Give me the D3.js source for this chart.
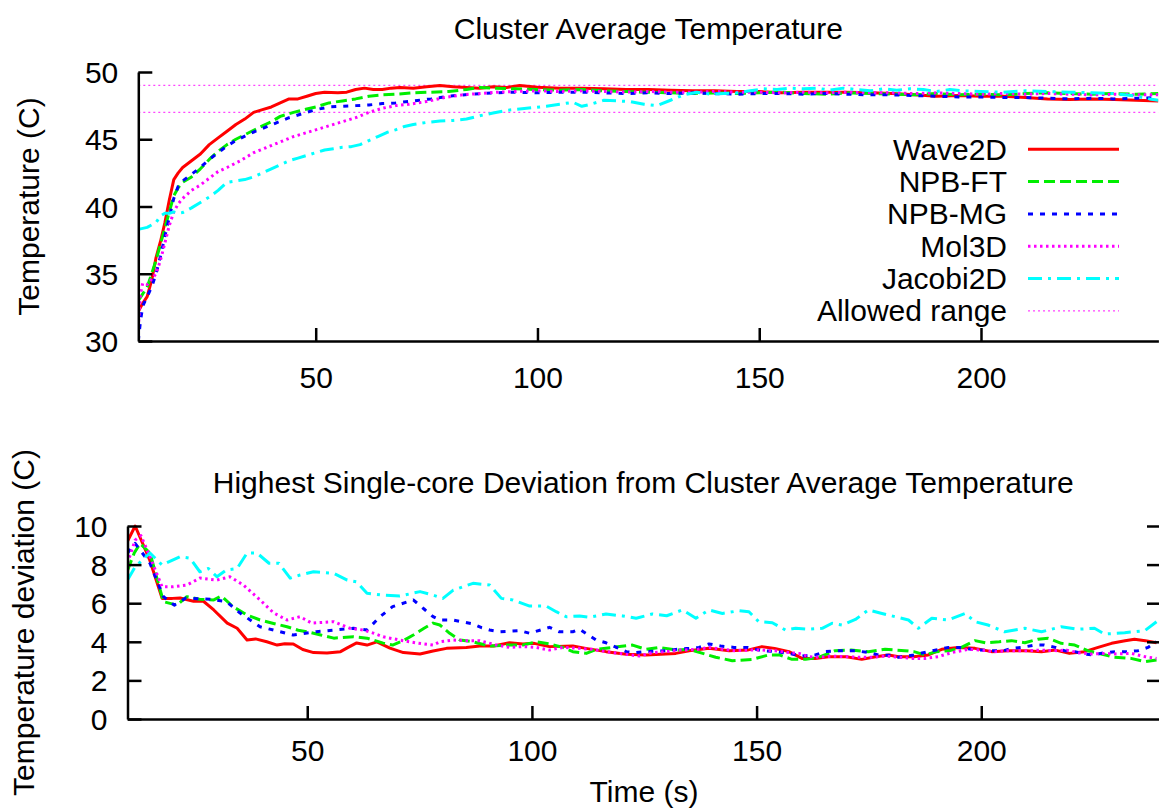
<!DOCTYPE html>
<html><head><meta charset="utf-8">
<script src="https://cdn.jsdelivr.net/npm/d3@7/dist/d3.min.js"></script>
<style>
html,body{margin:0;padding:0;background:#fff;}
svg text{font-family:"Liberation Sans",Arial,Helvetica,sans-serif;fill:#000;}
</style></head><body>
<svg id="chart" width="1159" height="809"></svg>
<script>
// ---------------- DATA ----------------
const seriesNames = ["Wave2D","NPB-FT","NPB-MG","Mol3D","Jacobi2D"];
const allowedRange = [47, 49];
const xTicks = [50,100,150,200];
const topYTicks = [30,35,40,45,50];
const bottomYTicks = [0,2,4,6,8,10];

// Cluster average temperature: [time (s), temperature (C)]
const avgWave2D = [[10,32.2],[11,32.8],[12,33.3],[13,34.5],[14,36.2],[15,37.4],[16,38.8],[17,40.5],[18,42.0],[19,42.5],[20,42.9],[22,43.4],[24,43.9],[26,44.6],[28,45.1],[30,45.6],[32,46.1],[34,46.5],[36,47.0],[38,47.2],[40,47.4],[42,47.7],[44,48.0],[46,48.0],[48,48.2],[50,48.4],[52,48.5],[55,48.45],[57,48.5],[59,48.7],[61,48.8],[63,48.7],[65,48.7],[67,48.8],[69,48.85],[72,48.8],[75,48.9],[78,49.0],[81,48.9],[84,48.85],[87,48.8],[90,48.9],[93,48.85],[96,49.0],[100,48.86],[105,48.8],[110,48.8],[115,48.75],[120,48.7],[125,48.7],[130,48.65],[135,48.6],[140,48.6],[145,48.55],[150,48.55],[155,48.45],[160,48.5],[165,48.5],[170,48.5],[175,48.45],[180,48.4],[185,48.3],[190,48.2],[195,48.25],[200,48.2],[205,48.2],[210,48.1],[215,48.0],[220,47.95],[225,48.0],[230,47.95],[235,47.9],[240,47.85]];
const avgNPBFT = [[10,33.0],[11,33.5],[12,34.0],[13,35.0],[14,36.0],[15,37.2],[16,38.4],[17,39.6],[18,40.8],[19,41.4],[20,41.8],[22,42.2],[24,42.8],[26,43.5],[28,44.1],[30,44.6],[32,45.0],[35,45.5],[38,46.0],[40,46.3],[42,46.7],[45,47.0],[48,47.25],[50,47.4],[53,47.7],[56,47.85],[59,48.0],[62,48.2],[65,48.3],[68,48.35],[72,48.45],[76,48.5],[80,48.55],[84,48.7],[87,48.85],[90,48.8],[95,48.75],[100,48.7],[105,48.65],[110,48.7],[115,48.6],[120,48.55],[125,48.5],[130,48.45],[135,48.4],[140,48.45],[145,48.4],[150,48.45],[155,48.5],[160,48.4],[165,48.35],[170,48.45],[175,48.4],[180,48.35],[185,48.3],[190,48.4],[195,48.3],[200,48.35],[205,48.3],[210,48.4],[215,48.45],[220,48.4],[225,48.35],[230,48.4],[235,48.35],[240,48.4]];
const avgNPBMG = [[10,30.0],[10.5,31.5],[11,32.6],[12,33.3],[13,34.0],[14,35.0],[15,36.3],[16,37.8],[17,39.2],[18,40.6],[19,41.5],[20,41.9],[22,42.4],[24,42.9],[26,43.5],[28,44.0],[30,44.5],[32,44.9],[35,45.4],[38,45.8],[41,46.2],[44,46.6],[47,46.9],[50,47.2],[53,47.4],[56,47.45],[59,47.5],[62,47.55],[65,47.65],[68,47.7],[72,47.85],[76,48.0],[80,48.2],[85,48.35],[90,48.45],[95,48.5],[100,48.45],[105,48.5],[110,48.5],[115,48.45],[120,48.4],[125,48.45],[130,48.4],[135,48.45],[140,48.4],[145,48.35],[150,48.4],[155,48.4],[160,48.35],[165,48.4],[170,48.35],[175,48.3],[180,48.3],[185,48.25],[190,48.2],[195,48.15],[200,48.15],[205,48.1],[210,48.1],[215,48.05],[220,48.0],[225,48.05],[230,48.0],[235,48.05],[240,48.1]];
const avgMol3D = [[10,31.0],[10.5,33.5],[11,34.3],[12,34.2],[13,34.6],[14,35.0],[15,36.0],[16,37.3],[17,38.6],[18,39.6],[19,40.2],[20,40.6],[22,41.2],[24,41.6],[26,42.1],[28,42.6],[30,42.9],[33,43.4],[36,44.0],[39,44.4],[42,44.8],[45,45.2],[48,45.5],[50,45.7],[53,46.0],[56,46.3],[59,46.6],[62,47.0],[65,47.3],[68,47.5],[71,47.6],[75,47.8],[79,48.1],[83,48.3],[87,48.4],[91,48.5],[95,48.55],[100,48.6],[105,48.55],[110,48.6],[115,48.55],[120,48.5],[125,48.55],[130,48.5],[135,48.5],[140,48.55],[145,48.5],[150,48.5],[155,48.45],[160,48.5],[165,48.45],[170,48.5],[175,48.45],[180,48.45],[185,48.4],[190,48.45],[195,48.4],[200,48.35],[205,48.4],[210,48.35],[215,48.4],[220,48.35],[225,48.3],[230,48.35],[235,48.3],[240,48.3]];
const avgJacobi2D = [[10,38.3],[12,38.45],[14,38.8],[15,39.3],[16,39.5],[17,39.5],[18,39.6],[19,39.5],[20,39.55],[22,39.9],[24,40.3],[26,40.7],[28,41.2],[30,41.8],[32,41.9],[34,42.0],[36,42.2],[38,42.5],[40,42.8],[42,43.1],[44,43.4],[46,43.6],[48,43.8],[50,44.0],[52,44.2],[54,44.3],[56,44.4],[58,44.45],[60,44.6],[62,44.9],[64,45.2],[66,45.5],[68,45.7],[70,45.95],[72,46.1],[75,46.25],[78,46.35],[81,46.4],[84,46.5],[87,46.75],[90,46.95],[93,47.15],[96,47.25],[99,47.35],[102,47.45],[105,47.6],[108,47.75],[110,47.45],[112,47.6],[115,47.9],[118,47.85],[121,47.8],[124,47.6],[127,47.5],[130,47.9],[133,48.3],[136,48.5],[139,48.35],[142,48.4],[145,48.45],[148,48.6],[151,48.75],[154,48.7],[157,48.8],[160,48.75],[163,48.8],[166,48.65],[169,48.8],[172,48.7],[175,48.6],[178,48.75],[181,48.65],[184,48.75],[187,48.7],[190,48.55],[193,48.7],[196,48.6],[200,48.55],[205,48.5],[210,48.6],[215,48.55],[220,48.5],[225,48.45],[230,48.4],[235,48.2],[238,48.0],[240,47.9]];

// Highest single-core deviation: [time (s), deviation (C)]
const devWave2D = [[10,9.2],[11.7,10.0],[13,9.3],[15,8.2],[17.7,6.25],[20,6.25],[21.7,6.27],[24.7,6.1],[26.9,6.1],[29.2,5.65],[32.2,4.97],[34.4,4.7],[36.6,4.09],[38.5,4.15],[41,4.0],[43.3,3.83],[45,3.9],[46.9,3.89],[49,3.6],[51.4,3.44],[54.4,3.42],[57.4,3.49],[59,3.7],[61,3.94],[63.3,3.83],[65.5,4.0],[68.4,3.67],[71.4,3.44],[75.1,3.37],[78,3.52],[81,3.66],[85.4,3.71],[88.4,3.78],[91.5,3.78],[95,3.95],[98,3.89],[100.5,3.92],[103.9,3.75],[109.1,3.78],[112,3.66],[116.5,3.49],[121,3.35],[125.4,3.32],[129.8,3.37],[132,3.4],[135,3.54],[139.4,3.66],[143.9,3.54],[148,3.57],[151.2,3.75],[154,3.66],[157.2,3.49],[160.1,3.14],[163,3.14],[166,3.23],[170,3.23],[173.4,3.09],[176.5,3.23],[179.4,3.32],[181.6,3.23],[185,3.23],[188.2,3.32],[191.2,3.61],[194.9,3.71],[198.6,3.66],[202.3,3.49],[206,3.54],[210,3.54],[213.4,3.49],[216.5,3.57],[219.6,3.4],[223,3.49],[226,3.71],[229,3.92],[232,4.05],[234.1,4.13],[236.5,4.06],[239,3.95]];
const devNPBFT = [[10,7.7],[11.5,8.6],[12.8,9.1],[15,8.6],[18,6.08],[21,5.9],[23.2,6.34],[26,6.2],[29.2,6.17],[30.9,6.37],[33.5,5.82],[36.5,5.4],[39.5,5.13],[42.5,4.95],[45.5,4.78],[48,4.6],[50,4.52],[53,4.35],[55.9,4.19],[60.3,4.26],[63.3,4.19],[66.9,3.93],[69,3.83],[71.3,4.05],[73.6,4.35],[76,4.7],[78,4.97],[79.5,4.87],[81.7,4.44],[84,4.09],[86.9,4.0],[90.6,3.78],[94.3,3.83],[98,3.83],[101,4.0],[103.9,3.89],[106.9,3.71],[109.1,3.49],[112.1,3.4],[114.3,3.61],[118,3.71],[122.4,3.83],[125.4,3.61],[128.3,3.71],[132.4,3.57],[135,3.61],[138,3.4],[140.9,3.2],[144.6,3.02],[149,3.09],[152.7,3.32],[155,3.32],[157.9,3.09],[160.9,3.09],[163.8,3.2],[167.5,3.54],[171,3.57],[174.9,3.49],[178.6,3.61],[183,3.54],[185,3.49],[187.5,3.32],[190,3.49],[193,3.54],[195.6,3.71],[198.6,4.06],[201,3.95],[204,4.0],[206.7,4.06],[209.7,3.95],[212.6,4.13],[214.9,4.18],[217.8,3.92],[220.8,3.83],[223.7,3.54],[226.7,3.37],[229.6,3.2],[233.3,3.14],[236.4,2.97],[239,3.06]];
const devNPBMG = [[10,8.6],[11.7,9.1],[15,8.07],[18,6.34],[20.4,5.9],[23,6.27],[28.4,6.2],[32,6.08],[35,5.5],[39.5,4.78],[44,4.52],[46.9,4.35],[52,4.52],[55.9,4.61],[60.3,4.7],[63.3,4.61],[66.2,5.3],[69,5.82],[73.6,6.17],[76,5.7],[78,5.3],[79.5,5.13],[82.5,5.13],[86.9,4.92],[88.8,4.73],[90.6,4.61],[92.8,4.52],[97.3,4.58],[99.5,4.44],[103.9,4.75],[106.1,4.52],[109.1,4.52],[110.6,4.65],[114.3,4.09],[116.5,3.95],[121,3.49],[123.2,3.44],[125.4,3.49],[129.8,3.54],[132.4,3.61],[135,3.66],[137.2,3.71],[139.4,3.89],[142,3.78],[145,3.71],[148,3.71],[151.2,3.54],[154.5,3.49],[157.9,3.37],[160.1,3.26],[163.1,3.32],[165.3,3.49],[168,3.54],[172,3.54],[174.9,3.44],[177.1,3.32],[180,3.3],[181.6,3.2],[185,3.32],[188.2,3.49],[192.7,3.71],[195,3.71],[197.8,3.61],[202.3,3.54],[205,3.54],[206.7,3.66],[209,3.71],[211.9,3.83],[214,3.83],[216.5,3.71],[218.5,3.54],[220.8,3.49],[223,3.37],[225,3.32],[227.4,3.44],[230,3.49],[232.5,3.49],[234.9,3.54],[237.1,3.71],[239,4.0]];
const devMol3D = [[10,8.07],[11.7,9.27],[13,9.5],[15,8.4],[17.7,6.85],[20,6.85],[23.2,6.94],[26.1,7.3],[29.9,7.2],[32.8,7.37],[35.8,6.94],[39.5,6.17],[42.5,5.5],[45.5,5.13],[48.4,5.3],[51,4.97],[55.9,5.04],[59.5,4.7],[62.5,4.61],[64.7,4.45],[66.9,4.26],[70.6,4.09],[74.3,3.94],[78,3.83],[79.5,4.0],[82.5,4.09],[85.5,4.06],[88.4,4.06],[92.1,3.83],[95,3.71],[98,3.75],[101,3.71],[103.9,3.57],[106.9,3.71],[110.6,3.66],[113.5,3.61],[118,3.44],[121,3.35],[123.9,3.26],[126.8,3.44],[129.8,3.49],[133,3.57],[137,3.61],[139.4,3.71],[142.4,3.61],[145.3,3.54],[148.3,3.57],[151.2,3.57],[154.2,3.54],[157.2,3.44],[159.4,3.4],[161.6,3.23],[163.8,3.2],[166.8,3.26],[169.8,3.23],[172.7,3.2],[175.6,3.2],[178.6,3.26],[181.6,3.2],[184.5,3.14],[187.5,3.14],[190.4,3.23],[193.4,3.44],[197.1,3.61],[200,3.57],[203,3.49],[206,3.54],[210,3.54],[213,3.57],[217,3.54],[219,3.57],[221.5,3.44],[224.5,3.37],[227.5,3.4],[230.4,3.37],[233.4,3.4],[236.4,3.23],[239,3.14]];
const devJacobi2D = [[10,7.2],[11.7,7.89],[15,8.6],[17.7,7.98],[21.7,8.41],[23.9,8.33],[26.1,7.63],[28,7.8],[29.9,7.37],[32,7.72],[34.4,7.8],[36.6,8.6],[38.8,8.6],[41.5,8.07],[43.7,8.07],[46.2,7.3],[48.4,7.46],[51.4,7.63],[55.9,7.55],[58.9,7.2],[61,7.11],[63.3,6.51],[66.8,6.42],[70.6,6.37],[75.1,6.6],[78,6.42],[80.2,6.25],[82.5,6.68],[86.9,7.03],[90.6,6.94],[93.2,6.25],[95.7,6.17],[99.5,5.85],[103.2,5.85],[105.4,5.56],[107.6,5.3],[110.6,5.34],[112.8,5.27],[116.5,5.44],[120.2,5.34],[123.2,5.22],[126.8,5.44],[130,5.35],[133.5,5.65],[136.5,5.22],[139.4,5.65],[142.4,5.47],[146.1,5.61],[148.3,5.56],[150.5,5.04],[153.5,4.99],[156.4,4.61],[158.7,4.7],[161.6,4.65],[164.6,4.7],[166.8,4.96],[169,4.87],[172,5.16],[174.9,5.65],[177.9,5.47],[180.8,5.3],[183.8,5.13],[186,4.7],[189,5.22],[192.7,5.13],[196.4,5.47],[198.6,5.04],[201.5,4.87],[205.2,4.52],[209.7,4.7],[213.4,4.52],[217.8,4.78],[221.5,4.65],[225.2,4.7],[227.4,4.4],[231.9,4.47],[236.4,4.58],[239,5.04]];

// ---------------- STYLE ----------------
const styles = [
  {color:"#ff0000", dash:null},
  {color:"#00ee00", dash:"11,5"},
  {color:"#0000ff", dash:"5,7"},
  {color:"#ff00ff", dash:"2.5,3.5"},
  {color:"#00ffff", dash:"14,6,3,6"}
];
const FONT = 30;
const svg = d3.select("#chart");

function panel(cfg){
  const {left,right,top,bottom,yDomain,yTicks,data,title,titleY,ylabel,ylabelX,xLabelY,mirrorY,allowed} = cfg;
  const x = d3.scaleLinear().domain([10,240]).range([left,right]);
  const y = d3.scaleLinear().domain(yDomain).range([bottom,top]);
  const id = "clip"+top;
  svg.append("clipPath").attr("id",id).append("rect")
     .attr("x",left).attr("y",top-2).attr("width",right-left).attr("height",bottom-top+2);
  const g = svg.append("g");
  const plot = g.append("g").attr("clip-path",`url(#${id})`);
  if(allowed){
    allowed.forEach(v=>{
      plot.append("line").attr("x1",left).attr("x2",right).attr("y1",y(v)).attr("y2",y(v))
        .attr("stroke","#ff44ff").attr("stroke-width",1.3).attr("stroke-dasharray","2,3");
    });
  }
  const line = d3.line().x(d=>x(d[0])).y(d=>y(d[1]));
  data.forEach((s,i)=>{
    plot.append("path").datum(s).attr("d",line).attr("fill","none")
      .attr("stroke",styles[i].color).attr("stroke-width",3)
      .attr("stroke-linejoin","round")
      .attr("stroke-dasharray",styles[i].dash);
  });
  // axes (gnuplot style: inward ticks)
  const ax = d3.axisBottom(x).tickValues(xTicks).tickSizeInner(-13).tickSizeOuter(0).tickPadding(0);
  const gx = g.append("g").attr("transform",`translate(0,${bottom})`).call(ax);
  gx.select(".domain").attr("stroke-width",2.5);
  gx.selectAll(".tick line").attr("stroke-width",2.5);
  gx.selectAll(".tick text").attr("y",xLabelY-bottom).attr("dy","0.35em")
     .attr("font-size",FONT).attr("font-family",'"Liberation Sans",Arial,sans-serif');
  const ay = d3.axisLeft(y).tickValues(yTicks).tickSizeInner(-14).tickSizeOuter(0).tickPadding(0);
  const gy = g.append("g").attr("transform",`translate(${left},0)`).call(ay);
  gy.select(".domain").attr("stroke-width",2.5);
  gy.selectAll(".tick line").attr("stroke-width",2.5);
  gy.selectAll(".tick text").attr("x",-20).attr("dy","0.35em")
     .attr("font-size",FONT).attr("font-family",'"Liberation Sans",Arial,sans-serif');
  if(mirrorY){
    const ay2 = d3.axisRight(y).tickValues(yTicks.filter(v=>v!==yDomain[0])).tickSizeInner(-12).tickSizeOuter(0).tickFormat("");
    const gy2 = g.append("g").attr("transform",`translate(${1159},0)`).call(ay2);
    gy2.select(".domain").remove();
    gy2.selectAll(".tick line").attr("stroke-width",2.5);
  }
  g.selectAll(".domain").attr("stroke","#000");
  svg.append("text").attr("x",(left+Math.min(right,1159))/2).attr("y",titleY).attr("dy","0.35em")
     .attr("text-anchor","middle").attr("font-size",FONT).text(title);
  svg.append("text").attr("transform",`translate(${ylabelX},${(top+bottom)/2}) rotate(-90)`)
     .attr("dy","0.35em").attr("text-anchor","middle").attr("font-size",FONT).text(ylabel);
  return {x,y};
}

panel({left:138.3,right:1158.4,top:72,bottom:341,yDomain:[30,50],yTicks:topYTicks,
  data:[avgWave2D,avgNPBFT,avgNPBMG,avgMol3D,avgJacobi2D],
  title:"Cluster Average Temperature",titleY:28,ylabel:"Temperature (C)",ylabelX:28,xLabelY:377,
  mirrorY:false,allowed:allowedRange});

panel({left:127.5,right:1161,top:526,bottom:719,yDomain:[0,10],yTicks:bottomYTicks,
  data:[devWave2D,devNPBFT,devNPBMG,devMol3D,devJacobi2D],
  title:"Highest Single-core Deviation from Cluster Average Temperature",titleY:482,
  ylabel:"Temperature deviation (C)",ylabelX:23,xLabelY:750,mirrorY:true,allowed:null});

svg.append("text").attr("x",644).attr("y",802).attr("text-anchor","middle")
   .attr("font-size",FONT).text("Time (s)");

// legend
const legendNames = seriesNames.concat(["Allowed range"]);
const lg = svg.append("g");
legendNames.forEach((n,i)=>{
  const yy = 149.3 + i*32.3;
  lg.append("text").attr("x",1007).attr("y",yy).attr("dy","0.35em").attr("text-anchor","end")
    .attr("font-size",FONT).text(n);
  const ln = lg.append("line").attr("x1",1028).attr("x2",1119).attr("y1",yy).attr("y2",yy);
  if(i<5){ ln.attr("stroke",styles[i].color).attr("stroke-width",3).attr("stroke-dasharray",styles[i].dash); }
  else { ln.attr("stroke","#ff44ff").attr("stroke-width",1.3).attr("stroke-dasharray","2,3"); }
});
</script>
</body></html>
